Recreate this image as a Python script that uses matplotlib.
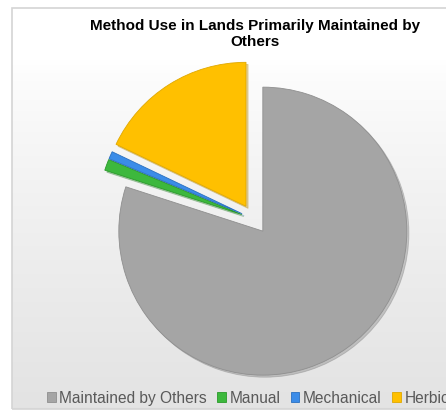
import numpy as np
import matplotlib
matplotlib.use("Agg")
import matplotlib.pyplot as plt
from matplotlib.patches import Rectangle

title = "Method Use in Lands Primarily Maintained by\nOthers"
categories = ["Maintained by Others", "Manual", "Mechanical", "Herbicide"]
values = [79.9, 1.25, 0.85, 17.9]
colors = ["#A5A5A5", "#3DB83D", "#3B8CE8", "#FFC000"]
edge_colors = ["#8f8f8f", "#2a9a2a", "#2a70c0", "#e0a800"]

W, H = 446, 411
fig = plt.figure(figsize=(W / 100, H / 100), dpi=100)
fig.patch.set_facecolor("white")
ax = fig.add_axes([0, 0, 1, 1])

# chart-area background gradient
grad = np.linspace(0, 1, 256).reshape(-1, 1)
top = np.array([1.0, 1.0, 1.0])
bot = np.array([0.89, 0.89, 0.89])
t = np.clip((grad - 0.13) / 0.87, 0, 1) ** 0.8
img = top * (1 - t) + bot * t
img = img.reshape(256, 1, 3)
ax.imshow(img, extent=(12, W + 5, 2, H - 8), aspect="auto", zorder=0,
          origin="upper", interpolation="bilinear")
ax.add_patch(Rectangle((12, 2), W, H - 10, fill=False, edgecolor="#d4d4d4",
                       linewidth=1.2, zorder=1))

cx, cy, r = 254, H - 219, 144
wedges, _ = ax.pie(values, colors=colors, startangle=90, counterclock=False,
                   explode=[15, 13, 13, 15], radius=r, center=(cx, cy),
                   frame=True,
                   wedgeprops=dict(linewidth=0.6, zorder=3),
                   shadow=dict(ox=1.5, oy=-1.5, shade=0.3, alpha=0.35))
for w, ec in zip(wedges, edge_colors):
    w.set_edgecolor(ec)
ax.set_xlim(0, W)
ax.set_ylim(0, H)
ax.set_aspect("equal")
ax.axis("off")

fig.text(255 / W, 1 - 34 / H, title, ha="center", va="center",
         fontsize=11.0, fontweight="bold", family="Liberation Sans",
         color="#000000", linespacing=1.12)

handles = [Rectangle((0, 0), 1, 1, facecolor=c, edgecolor=ec, linewidth=0.6)
           for c, ec in zip(colors, edge_colors)]
fig.legend(handles, categories, loc="center left",
           bbox_to_anchor=(47 / W, 1 - 398 / H), ncol=4, frameon=False,
           prop=dict(family="Liberation Sans", size=11.2),
           labelcolor="#595959", handlelength=0.55, handleheight=0.55,
           handletextpad=0.25, columnspacing=0.65, borderpad=0, borderaxespad=0)

fig.savefig("out.png", dpi=100, facecolor="white")
